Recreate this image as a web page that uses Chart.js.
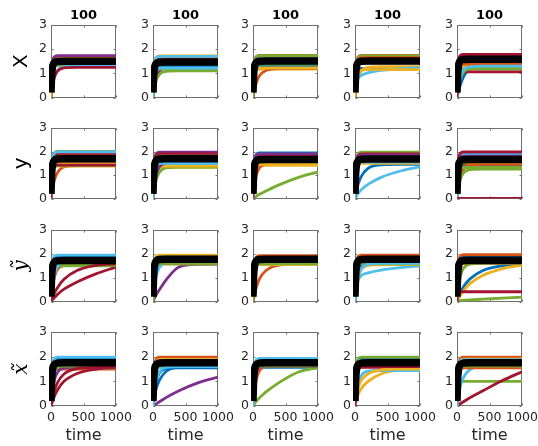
<!DOCTYPE html>
<html><head><meta charset="utf-8">
<script src="https://cdn.jsdelivr.net/npm/chart.js@4.4.1/dist/chart.umd.min.js"></script>
<style>
html,body{margin:0;padding:0;background:#fff;}
body{position:relative;width:538px;height:446px;overflow:hidden;}
canvas{position:absolute;}
</style></head><body>
<script>
// ---------- data ----------
const time = [0, 10, 25, 50, 100, 200, 400, 700, 1000];
const timeTicks = [0, 500, 1000];
const valueTicks = [0, 1, 2, 3];
const colTitles = ['100', '100', '100', '100', '100'];
const rowLabels = ['X', 'y', '\u1EF9', 'x\u0303'];

// row "X"
const X1 = [
[0,0.94,1.45,1.65,1.7,1.7,1.7,1.7,1.7],
[0,0.92,1.43,1.63,1.68,1.68,1.68,1.68,1.68],
[0,0.74,1.15,1.31,1.35,1.35,1.35,1.35,1.35],
[0,0.95,1.47,1.68,1.73,1.73,1.73,1.73,1.73],
[0,0.73,1.13,1.29,1.33,1.33,1.33,1.33,1.33],
[0,0.26,0.55,0.85,1.13,1.27,1.3,1.3,1.3],
[0,0.25,0.53,0.81,1.09,1.23,1.25,1.25,1.25],
[0,0.8,1.23,1.41,1.45,1.45,1.45,1.45,1.45],
[0,0.85,1.32,1.5,1.55,1.55,1.55,1.55,1.55],
[0,0.88,1.36,1.55,1.6,1.6,1.6,1.6,1.6]];
const X2 = [
[0,0.93,1.44,1.64,1.69,1.69,1.69,1.69,1.69],
[0,0.89,1.38,1.57,1.62,1.62,1.62,1.62,1.62],
[0,0.95,1.46,1.67,1.72,1.72,1.72,1.72,1.72],
[0,0.25,0.53,0.81,1.09,1.23,1.25,1.25,1.25],
[0,0.22,0.46,0.72,0.96,1.08,1.1,1.1,1.1],
[0,0.94,1.45,1.65,1.7,1.7,1.7,1.7,1.7],
[0,0.83,1.28,1.46,1.5,1.5,1.5,1.5,1.5],
[0,0.72,1.1,1.26,1.3,1.3,1.3,1.3,1.3],
[0,0.8,1.23,1.41,1.45,1.45,1.45,1.45,1.45],
[0,0.77,1.19,1.36,1.4,1.4,1.4,1.4,1.4],
[0,0.85,1.32,1.5,1.55,1.55,1.55,1.55,1.55],
[0,0.65,1.0,1.14,1.18,1.18,1.18,1.18,1.18],
[0,0.67,1.04,1.18,1.22,1.22,1.22,1.22,1.22]];
const X3 = [
[0,0.95,1.46,1.67,1.72,1.72,1.72,1.72,1.72],
[0,0.96,1.48,1.69,1.74,1.74,1.74,1.74,1.74],
[0,0.65,1.0,1.14,1.18,1.18,1.18,1.18,1.18],
[0,0.88,1.36,1.55,1.6,1.6,1.6,1.6,1.6],
[0,0.95,1.47,1.68,1.73,1.73,1.73,1.73,1.73],
[0,0.72,1.1,1.26,1.3,1.3,1.3,1.3,1.3],
[0,0.8,1.23,1.41,1.45,1.45,1.45,1.45,1.45],
[0,0.72,1.11,1.27,1.31,1.31,1.31,1.31,1.31],
[0,0.15,0.35,0.6,0.9,1.12,1.2,1.2,1.2],
[0,0.67,1.04,1.18,1.22,1.22,1.22,1.22,1.22],
[0,0.85,1.32,1.5,1.55,1.55,1.55,1.55,1.55],
[0,0.76,1.17,1.34,1.38,1.38,1.38,1.38,1.38]];
const X4 = [
[0,0.66,1.02,1.16,1.2,1.2,1.2,1.2,1.2],
[0,0.96,1.48,1.69,1.74,1.74,1.74,1.74,1.74],
[0,0.26,0.54,0.83,1.11,1.25,1.28,1.28,1.28],
[0,0.88,1.36,1.55,1.6,1.6,1.6,1.6,1.6],
[0,0.95,1.46,1.67,1.72,1.72,1.72,1.72,1.72],
[0,0.35,0.6,0.8,0.92,1.02,1.12,1.19,1.24],
[0,0.79,1.22,1.39,1.43,1.43,1.43,1.43,1.43],
[0,0.85,1.32,1.5,1.55,1.55,1.55,1.55,1.55],
[0,0.91,1.4,1.6,1.65,1.65,1.65,1.65,1.65],
[0,0.4,0.75,1.0,1.12,1.15,1.15,1.15,1.15]];
const X5 = [
[0,0.12,0.28,0.5,0.85,1.25,1.55,1.58,1.58],
[0,0.95,1.46,1.67,1.72,1.72,1.72,1.72,1.72],
[0,0.72,1.1,1.26,1.3,1.3,1.3,1.3,1.3],
[0,0.98,1.51,1.73,1.78,1.78,1.78,1.78,1.78],
[0,0.65,1.0,1.14,1.18,1.18,1.18,1.18,1.18],
[0,0.91,1.4,1.6,1.65,1.65,1.65,1.65,1.65],
[0,0.58,0.9,1.03,1.06,1.06,1.06,1.06,1.06],
[0,0.8,1.23,1.41,1.45,1.45,1.45,1.45,1.45],
[0,0.76,1.17,1.34,1.38,1.38,1.38,1.38,1.38],
[0,0.83,1.28,1.46,1.5,1.5,1.5,1.5,1.5],
[0,0.88,1.36,1.55,1.6,1.6,1.6,1.6,1.6],
[0,0.24,0.51,0.79,1.06,1.2,1.22,1.22,1.22],
[0,0.26,0.55,0.85,1.13,1.27,1.3,1.3,1.3],
[0,0.98,1.51,1.73,1.78,1.78,1.78,1.78,1.78]];

// row "y"
const y1 = [
[0,1.07,1.66,1.89,1.95,1.95,1.95,1.95,1.95],
[0,0.2,0.45,0.75,1.1,1.35,1.4,1.4,1.4],
[0,0.76,1.17,1.34,1.38,1.38,1.38,1.38,1.38],
[0,0.96,1.49,1.7,1.75,1.75,1.75,1.75,1.75],
[0,1.1,1.7,1.94,2,2,2,2,2],
[0,0.87,1.34,1.53,1.58,1.58,1.58,1.58,1.58],
[0,1.03,1.6,1.82,1.88,1.88,1.88,1.88,1.88],
[0,0.91,1.4,1.6,1.65,1.65,1.65,1.65,1.65],
[0,0.99,1.53,1.75,1.8,1.8,1.8,1.8,1.8],
[0,0.83,1.28,1.46,1.5,1.5,1.5,1.5,1.5],
[0,0.88,1.36,1.55,1.6,1.6,1.6,1.6,1.6],
[0,0.77,1.19,1.36,1.4,1.4,1.4,1.4,1.4],
[0,1.09,1.68,1.92,1.98,1.98,1.98,1.98,1.98],
[0,0.78,1.21,1.38,1.42,1.42,1.42,1.42,1.42]];
const y2 = [
[0,0.84,1.29,1.47,1.52,1.52,1.52,1.52,1.52],
[0,1.03,1.59,1.81,1.87,1.87,1.87,1.87,1.87],
[0,0.73,1.13,1.29,1.33,1.33,1.33,1.33,1.33],
[0,1.08,1.67,1.91,1.97,1.97,1.97,1.97,1.97],
[0,0.22,0.5,0.8,1.12,1.3,1.34,1.34,1.34],
[0,0.8,1.23,1.41,1.45,1.45,1.45,1.45,1.45],
[0,1.05,1.62,1.84,1.9,1.9,1.9,1.9,1.9],
[0,0.88,1.36,1.55,1.6,1.6,1.6,1.6,1.6],
[0,0.96,1.49,1.7,1.75,1.75,1.75,1.75,1.75],
[0,0.76,1.17,1.34,1.38,1.38,1.38,1.38,1.38],
[0,0.31,0.65,1.01,1.35,1.52,1.55,1.55,1.55],
[0,0.99,1.53,1.75,1.8,1.8,1.8,1.8,1.8],
[0,0.83,1.28,1.46,1.5,1.5,1.5,1.5,1.5]];
const y3 = [
[0,1.07,1.65,1.88,1.94,1.94,1.94,1.94,1.94],
[0,1.02,1.57,1.79,1.85,1.85,1.85,1.85,1.85],
[0,0.78,1.2,1.37,1.41,1.41,1.41,1.41,1.41],
[0,0.88,1.36,1.55,1.6,1.6,1.6,1.6,1.6],
[0,0.02,0.05,0.09,0.18,0.32,0.58,0.9,1.13],
[0,0.96,1.49,1.7,1.75,1.75,1.75,1.75,1.75],
[0,1.0,1.55,1.77,1.82,1.82,1.82,1.82,1.82],
[0,0.94,1.45,1.65,1.7,1.7,1.7,1.7,1.7],
[0,0.3,0.63,0.98,1.31,1.47,1.5,1.5,1.5],
[0,0.8,1.23,1.41,1.45,1.45,1.45,1.45,1.45],
[0,1.05,1.62,1.84,1.9,1.9,1.9,1.9,1.9]];
const y4 = [
[0,0.15,0.35,0.62,0.95,1.28,1.43,1.45,1.45],
[0,0.99,1.53,1.75,1.8,1.8,1.8,1.8,1.8],
[0,0.88,1.36,1.55,1.6,1.6,1.6,1.6,1.6],
[0,0.95,1.46,1.67,1.72,1.72,1.72,1.72,1.72],
[0,1.08,1.67,1.91,1.97,1.97,1.97,1.97,1.97],
[0,0.05,0.12,0.22,0.38,0.6,0.9,1.17,1.35],
[0,1.05,1.62,1.84,1.9,1.9,1.9,1.9,1.9],
[0,0.85,1.32,1.5,1.55,1.55,1.55,1.55,1.55],
[0,0.91,1.4,1.6,1.65,1.65,1.65,1.65,1.65],
[0,0.83,1.28,1.46,1.5,1.5,1.5,1.5,1.5],
[0,1.02,1.57,1.79,1.85,1.85,1.85,1.85,1.85],
[0,0.88,1.36,1.55,1.6,1.6,1.6,1.6,1.6],
[0,0.85,1.32,1.5,1.55,1.55,1.55,1.55,1.55]];
const y5 = [
[0,0.78,1.21,1.38,1.42,1.42,1.42,1.42,1.42],
[0,0.29,0.61,0.94,1.26,1.42,1.45,1.45,1.45],
[0,0.88,1.36,1.55,1.6,1.6,1.6,1.6,1.6],
[0,1.05,1.62,1.84,1.9,1.9,1.9,1.9,1.9],
[0,0.25,0.53,0.81,1.09,1.23,1.25,1.25,1.25],
[0,1.03,1.59,1.81,1.87,1.87,1.87,1.87,1.87],
[0,1.09,1.68,1.92,1.98,1.98,1.98,1.98,1.98],
[0,0.96,1.49,1.7,1.75,1.75,1.75,1.75,1.75],
[0,0.83,1.28,1.46,1.5,1.5,1.5,1.5,1.5],
[0,0.85,1.32,1.5,1.55,1.55,1.55,1.55,1.55],
[0,0.99,1.53,1.75,1.8,1.8,1.8,1.8,1.8],
[0,0.73,1.12,1.28,1.32,1.32,1.32,1.32,1.32],
[0,0.94,1.45,1.65,1.7,1.7,1.7,1.7,1.7],
[0,0,0,0,0,0,0,0,0]];

// row "y tilde"
const yt1 = [
[0,1.05,1.62,1.84,1.9,1.9,1.9,1.9,1.9],
[0,0.31,0.65,1.01,1.35,1.52,1.55,1.55,1.55],
[0,0.85,1.31,1.49,1.54,1.54,1.54,1.54,1.54],
[0,0.99,1.53,1.75,1.8,1.8,1.8,1.8,1.8],
[0,0.83,1.28,1.46,1.5,1.5,1.5,1.5,1.5],
[0,1.07,1.66,1.89,1.95,1.95,1.95,1.95,1.95],
[0,0.03,0.08,0.16,0.3,0.52,0.82,1.17,1.44],
[0,0.91,1.4,1.6,1.65,1.65,1.65,1.65,1.65],
[0,0.88,1.36,1.55,1.6,1.6,1.6,1.6,1.6],
[0,0.85,1.32,1.5,1.55,1.55,1.55,1.55,1.55],
[0,0.96,1.49,1.7,1.75,1.75,1.75,1.75,1.75],
[0,0.84,1.29,1.47,1.52,1.52,1.52,1.52,1.52],
[0,0.34,0.71,1.1,1.48,1.67,1.7,1.7,1.7],
[0,0.07,0.18,0.34,0.58,0.93,1.3,1.52,1.58]];
const yt2 = [
[0,0.36,0.76,1.17,1.57,1.76,1.8,1.8,1.8],
[0,1.05,1.62,1.84,1.9,1.9,1.9,1.9,1.9],
[0,1.07,1.66,1.89,1.95,1.95,1.95,1.95,1.95],
[0,0.06,0.15,0.28,0.5,0.9,1.45,1.56,1.57],
[0,0.86,1.33,1.52,1.57,1.57,1.57,1.57,1.57],
[0,0.33,0.69,1.07,1.44,1.62,1.65,1.65,1.65],
[0,0.94,1.45,1.65,1.7,1.7,1.7,1.7,1.7],
[0,1.02,1.58,1.8,1.86,1.86,1.86,1.86,1.86],
[0,0.88,1.36,1.55,1.6,1.6,1.6,1.6,1.6],
[0,0.96,1.49,1.7,1.75,1.75,1.75,1.75,1.75],
[0,1.0,1.55,1.77,1.82,1.82,1.82,1.82,1.82],
[0,0.88,1.36,1.55,1.6,1.6,1.6,1.6,1.6]];
const yt3 = [
[0,1.02,1.57,1.79,1.85,1.85,1.85,1.85,1.85],
[0,1.06,1.63,1.86,1.92,1.92,1.92,1.92,1.92],
[0,0.88,1.36,1.55,1.6,1.6,1.6,1.6,1.6],
[0,0.94,1.45,1.65,1.7,1.7,1.7,1.7,1.7],
[0,0.89,1.38,1.57,1.62,1.62,1.62,1.62,1.62],
[0,0.99,1.53,1.75,1.8,1.8,1.8,1.8,1.8],
[0,0.96,1.49,1.7,1.75,1.75,1.75,1.75,1.75],
[0,0.91,1.4,1.6,1.65,1.65,1.65,1.65,1.65],
[0,0.12,0.3,0.58,0.95,1.3,1.53,1.57,1.57],
[0,0.85,1.32,1.5,1.55,1.55,1.55,1.55,1.55],
[0,0.99,1.53,1.75,1.8,1.8,1.8,1.8,1.8],
[0,0.87,1.34,1.53,1.58,1.58,1.58,1.58,1.58]];
const yt4 = [
[0,1.02,1.57,1.79,1.85,1.85,1.85,1.85,1.85],
[0,1.07,1.66,1.89,1.95,1.95,1.95,1.95,1.95],
[0,0.88,1.36,1.55,1.6,1.6,1.6,1.6,1.6],
[0,0.34,0.71,1.1,1.48,1.67,1.7,1.7,1.7],
[0,0.91,1.4,1.6,1.65,1.65,1.65,1.65,1.65],
[0,0.3,0.6,0.9,1.1,1.2,1.32,1.42,1.5],
[0,0.96,1.49,1.7,1.75,1.75,1.75,1.75,1.75],
[0,0.35,0.74,1.14,1.52,1.72,1.75,1.75,1.75],
[0,1.05,1.62,1.84,1.9,1.9,1.9,1.9,1.9],
[0,0.31,0.65,1.01,1.35,1.52,1.55,1.55,1.55],
[0,0.94,1.45,1.65,1.7,1.7,1.7,1.7,1.7],
[0,0.87,1.34,1.53,1.58,1.58,1.58,1.58,1.58],
[0,0.32,0.67,1.04,1.39,1.57,1.6,1.6,1.6]];
const yt5 = [
[0,0.1,0.2,0.36,0.62,0.95,1.3,1.5,1.58],
[0,1.08,1.67,1.91,1.97,1.97,1.97,1.97,1.97],
[0,0.05,0.12,0.25,0.45,0.75,1.1,1.38,1.53],
[0,0.94,1.45,1.65,1.7,1.7,1.7,1.7,1.7],
[0,0.02,0.03,0.04,0.05,0.07,0.1,0.14,0.18],
[0,0.99,1.53,1.75,1.8,1.8,1.8,1.8,1.8],
[0,0.3,0.4,0.41,0.41,0.41,0.41,0.41,0.41],
[0,1.02,1.57,1.79,1.85,1.85,1.85,1.85,1.85],
[0,0.88,1.36,1.55,1.6,1.6,1.6,1.6,1.6],
[0,0.89,1.38,1.57,1.62,1.62,1.62,1.62,1.62],
[0,0.96,1.49,1.7,1.75,1.75,1.75,1.75,1.75],
[0,0.32,0.67,1.04,1.39,1.57,1.6,1.6,1.6],
[0,0.92,1.43,1.63,1.68,1.68,1.68,1.68,1.68],
[0,0.89,1.38,1.57,1.62,1.62,1.62,1.62,1.62]];

// row "x tilde"
const xt1 = [
[0,1.06,1.64,1.87,1.93,1.93,1.93,1.93,1.93],
[0,0.83,1.28,1.46,1.5,1.5,1.5,1.5,1.5],
[0,0.88,1.36,1.55,1.6,1.6,1.6,1.6,1.6],
[0,0.88,1.36,1.55,1.6,1.6,1.6,1.6,1.6],
[0,0.85,1.32,1.5,1.55,1.55,1.55,1.55,1.55],
[0,1.09,1.68,1.92,1.98,1.98,1.98,1.98,1.98],
[0,0.08,0.2,0.38,0.65,1.0,1.32,1.5,1.58],
[0,0.94,1.45,1.65,1.7,1.7,1.7,1.7,1.7],
[0,0.99,1.53,1.75,1.8,1.8,1.8,1.8,1.8],
[0,0.91,1.4,1.6,1.65,1.65,1.65,1.65,1.65],
[0,0.32,0.66,1.03,1.37,1.55,1.58,1.58,1.58],
[0,0.89,1.38,1.57,1.62,1.62,1.62,1.62,1.62],
[0,1.02,1.57,1.79,1.85,1.85,1.85,1.85,1.85],
[0,0.15,0.35,0.6,0.95,1.3,1.52,1.57,1.58]];
const xt2 = [
[0,0.2,0.42,0.7,1.05,1.4,1.58,1.6,1.6],
[0,1.09,1.68,1.92,1.98,1.98,1.98,1.98,1.98],
[0,1.03,1.6,1.82,1.88,1.88,1.88,1.88,1.88],
[0,0.02,0.05,0.09,0.17,0.34,0.62,0.95,1.17],
[0,0.88,1.36,1.55,1.6,1.6,1.6,1.6,1.6],
[0,0.86,1.33,1.52,1.57,1.57,1.57,1.57,1.57],
[0,0.95,1.46,1.67,1.72,1.72,1.72,1.72,1.72],
[0,0.31,0.65,1.01,1.35,1.52,1.55,1.55,1.55],
[0,1.02,1.57,1.79,1.85,1.85,1.85,1.85,1.85],
[0,0.91,1.4,1.6,1.65,1.65,1.65,1.65,1.65],
[0,0.99,1.53,1.75,1.8,1.8,1.8,1.8,1.8],
[0,0.89,1.38,1.57,1.62,1.62,1.62,1.62,1.62],
[0,0.32,0.67,1.04,1.39,1.57,1.6,1.6,1.6]];
const xt3 = [
[0,0.86,1.33,1.52,1.57,1.57,1.57,1.57,1.57],
[0,0.33,0.69,1.07,1.44,1.62,1.65,1.65,1.65],
[0,0.88,1.36,1.55,1.6,1.6,1.6,1.6,1.6],
[0,0.5,0.95,1.35,1.62,1.7,1.7,1.7,1.7],
[0,0.04,0.1,0.19,0.33,0.57,0.95,1.38,1.55],
[0,1.06,1.64,1.87,1.93,1.93,1.93,1.93,1.93],
[0,0.96,1.49,1.7,1.75,1.75,1.75,1.75,1.75],
[0,1.02,1.57,1.79,1.85,1.85,1.85,1.85,1.85],
[0,0.99,1.53,1.75,1.8,1.8,1.8,1.8,1.8],
[0,0.92,1.43,1.63,1.68,1.68,1.68,1.68,1.68],
[0,0.88,1.36,1.55,1.6,1.6,1.6,1.6,1.6],
[0,0.89,1.38,1.57,1.62,1.62,1.62,1.62,1.62],
[0,1.03,1.6,1.82,1.88,1.88,1.88,1.88,1.88]];
const xt4 = [
[0,1.06,1.64,1.87,1.93,1.93,1.93,1.93,1.93],
[0,0.88,1.36,1.55,1.6,1.6,1.6,1.6,1.6],
[0,0.12,0.28,0.47,0.72,1.0,1.3,1.46,1.5],
[0,0.91,1.4,1.6,1.65,1.65,1.65,1.65,1.65],
[0,1.09,1.68,1.92,1.98,1.98,1.98,1.98,1.98],
[0,0.29,0.6,0.94,1.25,1.41,1.44,1.44,1.44],
[0,0.86,1.33,1.52,1.57,1.57,1.57,1.57,1.57],
[0,0.99,1.53,1.75,1.8,1.8,1.8,1.8,1.8],
[0,0.94,1.45,1.65,1.7,1.7,1.7,1.7,1.7],
[0,0.2,0.45,0.75,1.05,1.3,1.46,1.5,1.5],
[0,0.92,1.43,1.63,1.68,1.68,1.68,1.68,1.68],
[0,0.89,1.38,1.57,1.62,1.62,1.62,1.62,1.62],
[0,1.02,1.57,1.79,1.85,1.85,1.85,1.85,1.85],
[0,0.88,1.36,1.55,1.6,1.6,1.6,1.6,1.6]];
const xt5 = [
[0,0.91,1.4,1.6,1.65,1.65,1.65,1.65,1.65],
[0,1.09,1.68,1.92,1.98,1.98,1.98,1.98,1.98],
[0,0.94,1.45,1.65,1.7,1.7,1.7,1.7,1.7],
[0,0.99,1.53,1.75,1.8,1.8,1.8,1.8,1.8],
[0,0.55,0.85,0.97,1.0,1.0,1.0,1.0,1.0],
[0,0.25,0.5,0.8,1.15,1.48,1.6,1.6,1.6],
[0,0.02,0.04,0.09,0.17,0.34,0.62,1.03,1.39],
[0,0.88,1.36,1.55,1.6,1.6,1.6,1.6,1.6],
[0,0.85,1.32,1.5,1.55,1.55,1.55,1.55,1.55],
[0,1.05,1.62,1.84,1.9,1.9,1.9,1.9,1.9],
[0,0.96,1.49,1.7,1.75,1.75,1.75,1.75,1.75],
[0,0.89,1.38,1.57,1.62,1.62,1.62,1.62,1.62],
[0,1.03,1.6,1.82,1.88,1.88,1.88,1.88,1.88]];

// thick black curves, one per column
const X_black = [
[0.2,0.93,1.29,1.44,1.49,1.5,1.5,1.5,1.5],
[0.2,0.91,1.26,1.41,1.46,1.47,1.47,1.47,1.47],
[0.2,0.94,1.3,1.45,1.5,1.51,1.51,1.51,1.51],
[0.2,0.94,1.3,1.45,1.5,1.51,1.51,1.51,1.51],
[0.2,0.98,1.36,1.52,1.57,1.58,1.58,1.58,1.58]];
const y_black = [
[0.2,1.05,1.45,1.62,1.68,1.69,1.69,1.69,1.69],
[0.2,1.05,1.45,1.62,1.68,1.69,1.69,1.69,1.69],
[0.2,1.03,1.43,1.59,1.65,1.66,1.66,1.66,1.66],
[0.2,1.04,1.44,1.61,1.67,1.68,1.68,1.68,1.68],
[0.2,1.03,1.43,1.59,1.65,1.66,1.66,1.66,1.66]];
const yt_black = [
[0.2,1.07,1.48,1.65,1.71,1.72,1.72,1.72,1.72],
[0.2,1.1,1.52,1.7,1.76,1.77,1.77,1.77,1.77],
[0.2,1.1,1.52,1.7,1.76,1.77,1.77,1.77,1.77],
[0.2,1.1,1.52,1.7,1.76,1.77,1.77,1.77,1.77],
[0.2,1.07,1.49,1.66,1.72,1.73,1.73,1.73,1.73]];
const xt_black = [
[0.2,1.08,1.5,1.68,1.74,1.75,1.75,1.75,1.75],
[0.2,1.08,1.5,1.68,1.74,1.75,1.75,1.75,1.75],
[0.2,1.08,1.5,1.68,1.74,1.75,1.75,1.75,1.75],
[0.2,1.08,1.5,1.68,1.74,1.75,1.75,1.75,1.75],
[0.2,1.08,1.5,1.68,1.74,1.75,1.75,1.75,1.75]];

// ---------- layout & style ----------
const panelSeries = [[X1,X2,X3,X4,X5],[y1,y2,y3,y4,y5],[yt1,yt2,yt3,yt4,yt5],[xt1,xt2,xt3,xt4,xt5]];
const panelBlack = [X_black, y_black, yt_black, xt_black];
const colorOrder = ['#0072BD','#D95319','#EDB120','#7E2F8E','#77AC30','#4DBEEE','#A2142F'];
const colLeft = [51,153,253,355,457], plotW = 65;
const rowTop = [25,128,230,332], rowH = [74,72,73,74];
const rowLabelFont = [
  {size:20, family:"'DejaVu Sans'"},
  {size:20, family:"'DejaVu Sans'"},
  {size:20, family:"'DejaVu Serif'", style:'italic'},
  {size:20, family:"'DejaVu Serif'", style:'italic'}];

Chart.defaults.font.family = "'DejaVu Sans'";
Chart.defaults.color = '#262626';

const boxPlugin = {
  id: 'matlabBox',
  beforeDatasetsDraw(chart) {
    const {ctx, chartArea: a, scales: {x, y}} = chart;
    const l = Math.round(a.left) + 0.5, t = Math.round(a.top) + 0.5;
    const r = Math.round(a.right) - 0.5, b = Math.round(a.bottom) - 0.5;
    ctx.save();
    ctx.strokeStyle = '#707070';
    ctx.lineWidth = 1;
    ctx.strokeRect(l, t, r - l, b - t);
    ctx.beginPath();
    x.ticks.forEach(tk => {
      const px = Math.round(x.getPixelForValue(tk.value)) + 0.5;
      ctx.moveTo(px, t); ctx.lineTo(px, t + 2);
      ctx.moveTo(px, b); ctx.lineTo(px, b - 2);
    });
    y.ticks.forEach(tk => {
      const py = Math.round(y.getPixelForValue(tk.value)) + 0.5;
      ctx.moveTo(l, py); ctx.lineTo(l + 2, py);
      ctx.moveTo(r, py); ctx.lineTo(r - 2, py);
    });
    ctx.stroke();
    ctx.restore();
  },
  afterDraw(chart, args, opts) {
    if (!opts || !opts.title) return;
    const {ctx, chartArea: a} = chart;
    ctx.save();
    ctx.font = "bold 13px 'DejaVu Sans'";
    ctx.fillStyle = '#000';
    ctx.textAlign = 'center';
    ctx.textBaseline = 'middle';
    ctx.fillText(opts.title, (a.left + a.right) / 2, a.top - 9.5);
    ctx.restore();
  }
};

function pts(vals) { return vals.map((v, i) => ({x: time[i], y: v})); }

for (let r = 0; r < 4; r++) {
  for (let c = 0; c < 5; c++) {
    const L = c === 0 ? 51 : 30, R = 20;
    const Tp = r === 0 ? 25 : 12;
    const Bt = r === 3 ? 446 - (rowTop[r] + rowH[r]) : 10;
    const cw = L + plotW + R, ch = Tp + rowH[r] + Bt;
    const cv = document.createElement('canvas');
    cv.width = cw; cv.height = ch;
    cv.style.width = cw + 'px'; cv.style.height = ch + 'px';
    cv.style.left = (colLeft[c] - L) + 'px';
    cv.style.top = (rowTop[r] - Tp) + 'px';
    document.body.appendChild(cv);

    const series = panelSeries[r][c];
    const n = series.length;
    const datasets = [{
      data: pts(panelBlack[r][c]),
      borderColor: '#000', borderWidth: 7.5, order: 0,
      clip: {left: 2, right: 4, top: 4, bottom: 4}
    }];
    series.forEach((s, i) => datasets.push({
      data: pts(s),
      borderColor: colorOrder[i % 7], borderWidth: 2.8, order: n - i
    }));

    new Chart(cv, {
      type: 'line',
      data: {datasets},
      plugins: [boxPlugin],
      options: {
        responsive: false, animation: false, devicePixelRatio: 1,
        events: [],
        layout: {padding: {left: 0, right: R, top: Tp, bottom: 0}},
        elements: {
          point: {radius: 0},
          line: {cubicInterpolationMode: 'monotone', borderJoinStyle: 'round', fill: false}
        },
        plugins: {
          legend: {display: false},
          tooltip: {enabled: false},
          title: {display: false},
          matlabBox: {title: r === 0 ? colTitles[c] : null}
        },
        scales: {
          x: {
            type: 'linear', min: 0, max: 1000,
            border: {display: false},
            grid: {display: false, drawTicks: false},
            afterBuildTicks: s => { s.ticks = timeTicks.map(v => ({value: v})); },
            ticks: {display: r === 3, font: {size: 12.5}, color: '#262626', padding: 4,
                    maxRotation: 0, autoSkip: false, callback: v => String(v)},
            title: {display: r === 3, text: 'time', font: {size: 16}, color: '#262626', padding: {top: 0, bottom: 0.5}},
            afterFit: s => { s.height = Bt; }
          },
          y: {
            type: 'linear', min: 0, max: 3,
            border: {display: false},
            grid: {display: false, drawTicks: false},
            afterBuildTicks: s => { s.ticks = valueTicks.map(v => ({value: v})); },
            ticks: {font: {size: 12.5}, color: '#262626', padding: 4, callback: v => String(v)},
            title: {display: c === 0, text: rowLabels[r], font: rowLabelFont[r], color: '#000', padding: {top: 9.5, bottom: 0}},
            afterFit: s => { s.width = L; }
          }
        }
      }
    });
  }
}
</script>
</body></html>
